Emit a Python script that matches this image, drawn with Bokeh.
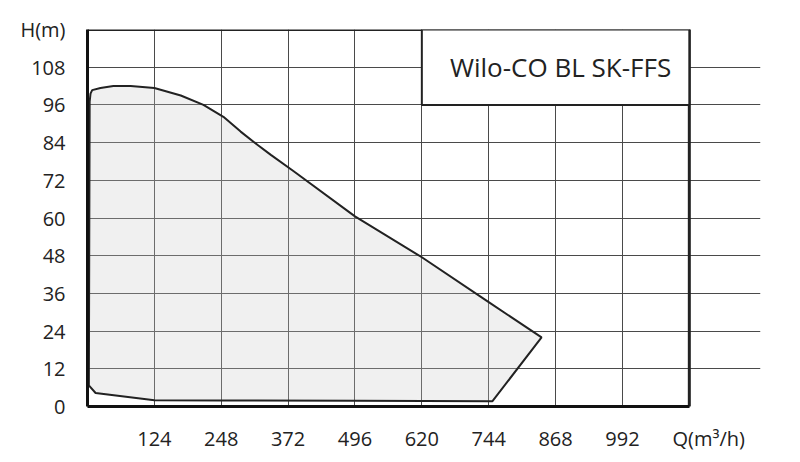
from bokeh.plotting import figure
from bokeh.models import FixedTicker
from bokeh.core.properties import value
from bokeh.embed import file_html
from bokeh.resources import INLINE

# Operating envelope (Q in m³/h, H in m), traced clockwise from lower-left
q_env = [2.5, 4.0, 5.6, 8.7, 24, 48, 80, 124, 173, 215, 252, 284, 315, 340, 383, 496, 620, 744, 842, 751, 500, 248, 124, 15, 2.5]
h_env = [6.7, 97.0, 99.6, 100.7, 101.4, 102.0, 102.0, 101.4, 99.0, 96.0, 92.2, 87.5, 83.3, 80.1, 74.8, 60.5, 47.5, 33.2, 22.0, 1.7, 1.8, 1.9, 2.0, 4.3, 6.7]

x_ticks = [124, 248, 372, 496, 620, 744, 868, 992, 1116]
y_ticks = [0, 12, 24, 36, 48, 60, 72, 84, 96, 108, 120]
x_max = 1116
y_max = 120
x_label = "Q(m³/h)"
x_label_at = 1152          # axis-title slot just right of the grid
y_label = "H(m)"
title_text = "Wilo-CO BL SK-FFS"
box_left = [620]
box_right = [1116]
box_bottom = [96]
box_top = [120]

FONT = "Open Sans"

p = figure(width=790, height=454, x_range=(0, 1248), y_range=(0, y_max),
           output_backend="svg", toolbar_location=None,
           min_border_left=87, min_border_right=30, min_border_top=29, min_border_bottom=46)

p.background_fill_color = "white"
p.border_fill_color = "white"
p.outline_line_color = None

p.xaxis.ticker = FixedTicker(ticks=x_ticks[:-1] + [x_label_at])
p.yaxis.ticker = FixedTicker(ticks=y_ticks)
p.xaxis.major_label_overrides = {x_label_at: x_label}
p.yaxis.major_label_overrides = {y_max: y_label}
p.xaxis.bounds = (0, x_max)

for ax in (p.xaxis, p.yaxis):
    ax.axis_line_color = "#111111"
    ax.axis_line_width = 3
    ax.major_tick_line_color = None
    ax.minor_tick_line_color = None
    ax.major_label_text_font = FONT
    ax.major_label_text_font_size = "20px"
    ax.major_label_text_color = "#222222"
p.xaxis.major_label_standoff = 12
p.yaxis.major_label_standoff = 16

for g in (p.xgrid, p.ygrid):
    g.grid_line_color = "#4a4a4a"
    g.grid_line_width = 1
p.xgrid.ticker = FixedTicker(ticks=x_ticks)
p.ygrid.ticker = FixedTicker(ticks=y_ticks)
p.ygrid.bounds = (0, x_max)

# envelope fill (translucent so the grid shows through) and outline
p.patch(q_env, h_env, fill_color="#c8c8c8", fill_alpha=0.27, line_color=None)
p.line(q_env, h_env, line_color="#222222", line_width=2)

# chart frame
p.quad(left=[0], right=[x_max], bottom=[0], top=[y_max],
       fill_color=None, line_color="#222222", line_width=3)

# title box
p.quad(left=box_left, right=box_right, bottom=box_bottom, top=box_top,
       fill_color="white", line_color="#222222", line_width=2)
p.text(x=[868], y=[108], text=[title_text], text_font=value(FONT), text_font_size="26px",
       text_color="#222222", text_align="center", text_baseline="middle", x_offset=5)

open("out.html", "w").write(file_html(p, INLINE))
